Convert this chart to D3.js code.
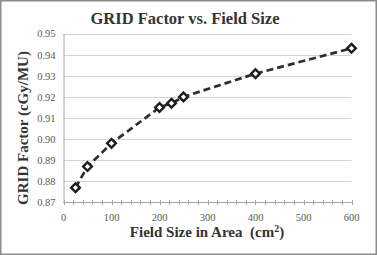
<!DOCTYPE html>
<html>
<head>
<meta charset="utf-8">
<script src="https://cdn.jsdelivr.net/npm/d3@7"></script>
<style>
  body { margin: 0; background: #fff; }
  svg { display: block; }
</style>
</head>
<body>
<svg></svg>
<script>
'use strict';

const svgWidth = 377;
const svgHeight = 255;

// field size (cm^2) and grid factor
const fieldSizes = [25, 50, 100, 200, 225, 250, 400, 600];
const gridFactors = [0.877, 0.887, 0.898, 0.915, 0.917, 0.920, 0.931, 0.943];
const xTicks = [0, 100, 200, 300, 400, 500, 600];
const yTicks = [0.87, 0.88, 0.89, 0.90, 0.91, 0.92, 0.93, 0.94, 0.95];

const svg = d3.select('svg')
  .attr('width', svgWidth)
  .attr('height', svgHeight);

const fontFam = '"Liberation Serif", "Times New Roman", serif';

// outer frame
svg.append('rect')
  .attr('x', 0.75)
  .attr('y', 0.75)
  .attr('width', svgWidth - 1.5)
  .attr('height', svgHeight - 1.5)
  .attr('fill', '#fff')
  .attr('stroke', '#8c8c8c')
  .attr('stroke-width', 1.5);

let x = d3.scaleLinear()
  .domain([0, 600])
  .range([63.5, 351.5]);

let y = d3.scaleLinear()
  .domain([0.87, 0.95])
  .range([202.5, 33.5]);

// gridlines
svg.append('g')
  .attr('stroke', '#d4d4d4')
  .attr('stroke-width', 1)
  .selectAll('line')
  .data(yTicks.slice(1))
  .join('line')
  .attr('x1', x(0))
  .attr('x2', x(600))
  .attr('y1', d => Math.round(y(d)) + 0.5)
  .attr('y2', d => Math.round(y(d)) + 0.5);

// y axis
let yAxis = svg.append('g')
  .attr('transform', `translate(${x(0)},0)`)
  .call(d3.axisLeft(y).tickValues(yTicks).tickSize(0).tickPadding(8)
    .tickFormat(d3.format('.2f')));
yAxis.select('.domain').attr('stroke', '#a6a6a6');
yAxis.selectAll('text')
  .attr('font-family', fontFam)
  .attr('font-size', 10.5)
  .attr('fill', '#595959');

// x axis with minor ticks crossing the line
let minorTicks = d3.range(0, 601, 20);
let xAxisG = svg.append('g')
  .attr('transform', `translate(0,${y(0.87)})`);

xAxisG.append('line')
  .attr('x1', x(0))
  .attr('x2', x(600))
  .attr('stroke', '#a6a6a6');

xAxisG.selectAll('.minor')
  .data(minorTicks)
  .join('line')
  .attr('class', 'minor')
  .attr('x1', d => Math.round(x(d)) + 0.5)
  .attr('x2', d => Math.round(x(d)) + 0.5)
  .attr('y1', -2.5)
  .attr('y2', 2.5)
  .attr('stroke', '#a6a6a6');

xAxisG.selectAll('text')
  .data(xTicks)
  .join('text')
  .attr('x', d => x(d))
  .attr('y', 18)
  .attr('text-anchor', 'middle')
  .attr('font-family', fontFam)
  .attr('font-size', 10.5)
  .attr('fill', '#595959')
  .text(d => d);

// series
let pts = fieldSizes.map((f, i) => [f, gridFactors[i]]);

svg.append('path')
  .datum(pts)
  .attr('fill', 'none')
  .attr('stroke', '#2e2e2e')
  .attr('stroke-width', 2.7)
  .attr('stroke-dasharray', '7,4')
  .attr('d', d3.line().x(d => x(d[0])).y(d => y(d[1])));

svg.append('g')
  .selectAll('path')
  .data(pts)
  .join('path')
  .attr('transform', d => `translate(${x(d[0])},${y(d[1])})`)
  .attr('d', d3.symbol().type(d3.symbolDiamond2).size(48))
  .attr('fill', '#fff')
  .attr('stroke', '#1e1e1e')
  .attr('stroke-width', 2.4);

// titles
svg.append('text')
  .attr('x', 185)
  .attr('y', 24)
  .attr('text-anchor', 'middle')
  .attr('font-family', fontFam)
  .attr('font-weight', 'bold')
  .attr('font-size', 16.5)
  .attr('fill', '#333')
  .text('GRID Factor vs. Field Size');

let xLabel = svg.append('text')
  .attr('x', 207)
  .attr('y', 237)
  .attr('text-anchor', 'middle')
  .attr('font-family', fontFam)
  .attr('font-weight', 'bold')
  .attr('font-size', 15)
  .attr('fill', '#333')
  .attr('xml:space', 'preserve');
xLabel.append('tspan').text('Field Size in Area  (cm');
xLabel.append('tspan').attr('font-size', 10).attr('dy', -5).text('2');
xLabel.append('tspan').attr('dy', 5).text(')');

svg.append('text')
  .attr('transform', 'translate(28,128) rotate(-90)')
  .attr('text-anchor', 'middle')
  .attr('font-family', fontFam)
  .attr('font-weight', 'bold')
  .attr('font-size', 15)
  .attr('fill', '#333')
  .text('GRID Factor (cGy/MU)');
</script>
</body>
</html>
